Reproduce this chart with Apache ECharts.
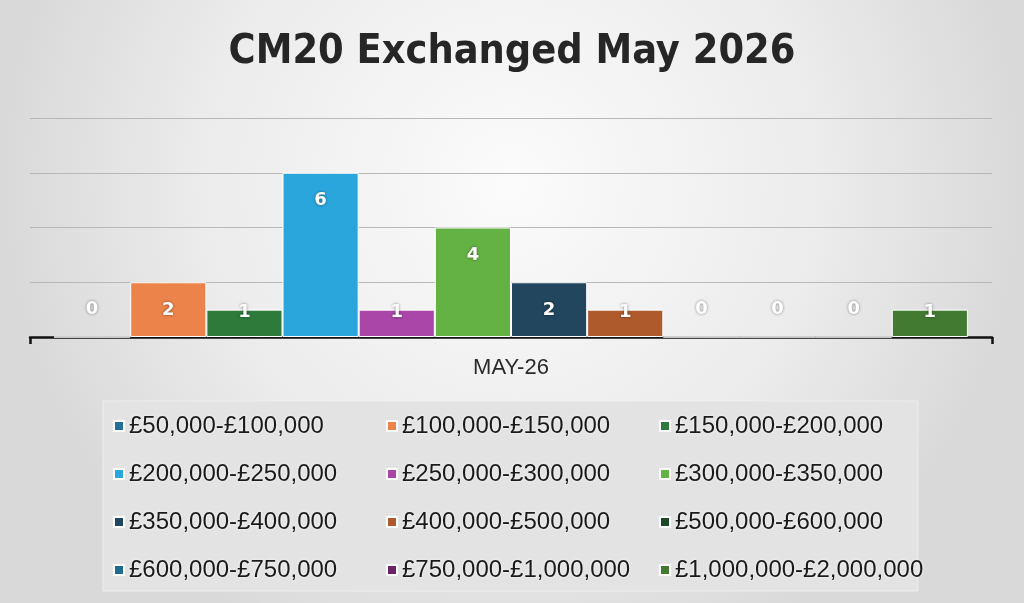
<!DOCTYPE html>
<html>
<head>
<meta charset="utf-8">
<script src="https://cdn.jsdelivr.net/npm/echarts@6/dist/echarts.min.js"></script>
<style>html,body{margin:0;padding:0;}#c{width:1024px;height:603px;}</style>
</head>
<body>
<div id="c"></div>
<script>
var titleText = 'CM20 Exchanged May 2026';
var categories = ['MAY-26'];
var seriesNames = ['£50,000-£100,000','£100,000-£150,000','£150,000-£200,000','£200,000-£250,000','£250,000-£300,000','£300,000-£350,000','£350,000-£400,000','£400,000-£500,000','£500,000-£600,000','£600,000-£750,000','£750,000-£1,000,000','£1,000,000-£2,000,000'];
var seriesValues = [0, 2, 1, 6, 1, 4, 2, 1, 0, 0, 0, 1];
var seriesColors = ['#23729c','#ec834a','#2d7a3a','#2aa6dc','#a946a8','#64b244','#21465d','#ae5a2d','#1c4a28','#1e6d8f','#6a2466','#437a32'];
var yTicks = [0, 2, 4, 6, 8];

var chart = echarts.init(document.getElementById('c'));

function labelDist(v) {
  if (v >= 2) return 19;
  if (v === 1) return -6;
  return -36;
}

var series = seriesNames.map(function (name, i) {
  var v = seriesValues[i];
  return {
    name: name,
    type: 'bar',
    barGap: '0%',
    barCategoryGap: '5%',
    itemStyle: { color: seriesColors[i], borderColor: '#ffffff', borderWidth: 1 },
    label: {
      show: true,
      position: 'insideTop',
      distance: labelDist(v),
      color: '#ffffff',
      fontSize: 18,
      fontWeight: 'bold',
      fontFamily: 'DejaVu Sans',
      textShadowColor: 'rgba(0,0,0,0.45)',
      textShadowBlur: 3
    },
    data: [v]
  };
});

function legendCol(idxs, left) {
  return {
    orient: 'vertical',
    left: left,
    top: 413,
    padding: 0,
    itemWidth: 10,
    itemHeight: 10,
    itemGap: 22,
    icon: 'rect',
    textStyle: {
      fontSize: 24,
      lineHeight: 26,
      color: '#1a1a1a',
      fontFamily: 'Liberation Sans',
      textShadowColor: 'rgba(255,255,255,0.9)',
      textShadowBlur: 3
    },
    data: idxs.map(function (k) { return seriesNames[k]; })
  };
}

chart.setOption({
  backgroundColor: {
    type: 'radial', x: 0.5, y: 0.3, r: 0.85,
    colorStops: [{ offset: 0, color: '#fbfbfb' }, { offset: 0.6, color: '#ececec' }, { offset: 1, color: '#d9d9d9' }]
  },
  animation: false,
  title: {
    text: titleText,
    left: 'center',
    top: 27,
    textStyle: { fontSize: 41, fontWeight: 'bold', color: '#262626', fontFamily: 'DejaVu Sans Condensed' }
  },
  graphic: [{
    type: 'rect',
    shape: { x: 103, y: 401, width: 815, height: 190 },
    style: { fill: '#e3e3e3', stroke: '#eeeeee', lineWidth: 1 },
    z: -1
  }],
  legend: [legendCol([0, 3, 6, 9], 113), legendCol([1, 4, 7, 10], 386), legendCol([2, 5, 8, 11], 659)],
  grid: { left: 30, right: 32, top: 118, bottom: 266 },
  xAxis: {
    type: 'category',
    data: categories,
    axisLine: { lineStyle: { color: '#111111', width: 2.5 } },
    axisTick: { show: true, length: 7, lineStyle: { color: '#111111', width: 2.5 } },
    axisLabel: { color: '#2a2a2a', fontSize: 22, margin: 20, fontFamily: 'Liberation Sans' }
  },
  yAxis: {
    type: 'value',
    min: yTicks[0],
    max: yTicks[yTicks.length - 1],
    interval: yTicks[1] - yTicks[0],
    axisLabel: { show: false },
    axisLine: { show: false },
    axisTick: { show: false },
    splitLine: { lineStyle: { color: '#b8b8b8', width: 1 } }
  },
  series: series
});
</script>
</body>
</html>
